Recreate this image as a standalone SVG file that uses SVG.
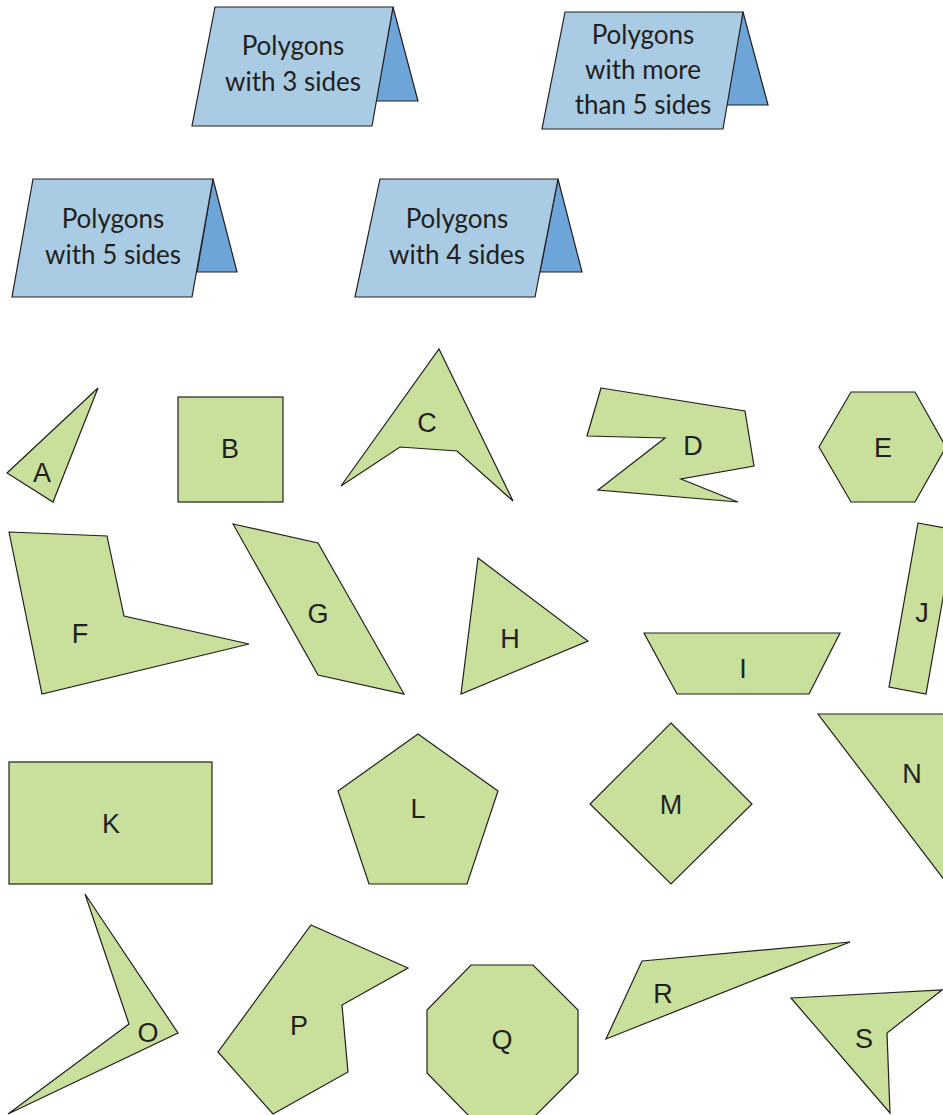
<svg xmlns="http://www.w3.org/2000/svg" width="943" height="1115" viewBox="0 0 943 1115">
<style>
.front{fill:#a9cce4;stroke:#231f20;stroke-width:1.2;stroke-linejoin:miter}
.side{fill:#6ea5d8;stroke:#231f20;stroke-width:1.2}
.tt{font-family:"Lato","Open Sans",sans-serif;font-size:26px;fill:#231f20;text-anchor:middle}
.sh{fill:#c8e09b;stroke:#231f20;stroke-width:1.2;stroke-linejoin:miter}
.lb{font-family:"Liberation Sans",Arial,sans-serif;font-size:27px;fill:#231f20;text-anchor:middle}
</style>
<rect width="943" height="1115" fill="#ffffff"/>
<g id="tent3">
<polygon class="side" points="393,7 418,101 376,101"/>
<polygon class="front" points="215,7 393,7 372,126 192,126"/>
<text class="tt" x="293" y="55">Polygons</text>
<text class="tt" x="293" y="91">with 3 sides</text>
</g>
<g id="tentMore5">
<polygon class="side" points="743,12 768,105 725,105"/>
<polygon class="front" points="565,12 743,12 723,129 542,129"/>
<text class="tt" x="643" y="44">Polygons</text>
<text class="tt" x="643" y="79">with more</text>
<text class="tt" x="643" y="114">than 5 sides</text>
</g>
<g id="tent5">
<polygon class="side" points="213,179 237,272 197,272"/>
<polygon class="front" points="33,179 213,179 192,297 12,297"/>
<text class="tt" x="113" y="228">Polygons</text>
<text class="tt" x="113" y="264">with 5 sides</text>
</g>
<g id="tent4">
<polygon class="side" points="558,179 582,272 540,272"/>
<polygon class="front" points="380,179 558,179 535,297 355,297"/>
<text class="tt" x="457" y="228">Polygons</text>
<text class="tt" x="457" y="264">with 4 sides</text>
</g>
<g id="A"><polygon class="sh" points="98,388 7,473 53,502"/><text class="lb" x="42" y="482">A</text></g>
<g id="B"><rect class="sh" x="178" y="397" width="105" height="105"/><text class="lb" x="230" y="458">B</text></g>
<g id="C"><polygon class="sh" points="439,349 513,501 457,451 400,447 341,486"/><text class="lb" x="427" y="432">C</text></g>
<g id="D"><polygon class="sh" points="601,388 745,411 754,466 681,479 738,502 598,490 665,438 587,436"/><text class="lb" x="693" y="455">D</text></g>
<g id="E"><polygon class="sh" points="851,392 915,392 946,447 915,502 851,502 819,447"/><text class="lb" x="883" y="457">E</text></g>
<g id="F"><polygon class="sh" points="9,532 107,536 124,616 249,644 42,694"/><text class="lb" x="80" y="643">F</text></g>
<g id="G"><polygon class="sh" points="233,524 318,543 404,694 318,675"/><text class="lb" x="318" y="623">G</text></g>
<g id="H"><polygon class="sh" points="478,558 588,641 461,694"/><text class="lb" x="510" y="648">H</text></g>
<g id="I"><polygon class="sh" points="644,633 840,633 809,694 677,694"/><text class="lb" x="743" y="678">I</text></g>
<g id="J"><polygon class="sh" points="918,523 955,530 926,694 889,687"/><text class="lb" x="922" y="622">J</text></g>
<g id="K"><rect class="sh" x="9" y="762" width="203" height="122"/><text class="lb" x="111" y="833">K</text></g>
<g id="L"><polygon class="sh" points="418,734 498,791 467,884 369,884 338,791"/><text class="lb" x="418" y="818">L</text></g>
<g id="M"><polygon class="sh" points="671,723 752,804 671,884 590,804"/><text class="lb" x="671" y="814">M</text></g>
<g id="N"><polygon class="sh" points="818,714 990,714 990,940"/><text class="lb" x="912" y="783">N</text></g>
<g id="O"><polygon class="sh" points="85,894 178,1033 8,1114 129,1024"/><text class="lb" x="148" y="1042">O</text></g>
<g id="P"><polygon class="sh" points="311,925 408,968 342,1005 348,1072 273,1114 218,1052"/><text class="lb" x="299" y="1035">P</text></g>
<g id="Q"><polygon class="sh" points="471,965 533,965 578,1010 578,1073 533,1118 471,1118 427,1073 427,1010"/><text class="lb" x="502" y="1049">Q</text></g>
<g id="R"><polygon class="sh" points="642,961 850,942 606,1039"/><text class="lb" x="663" y="1003">R</text></g>
<g id="S"><polygon class="sh" points="791,998 942,990 887,1033 890,1113"/><text class="lb" x="864" y="1048">S</text></g>
<g id="connectors"></g>
</svg>
